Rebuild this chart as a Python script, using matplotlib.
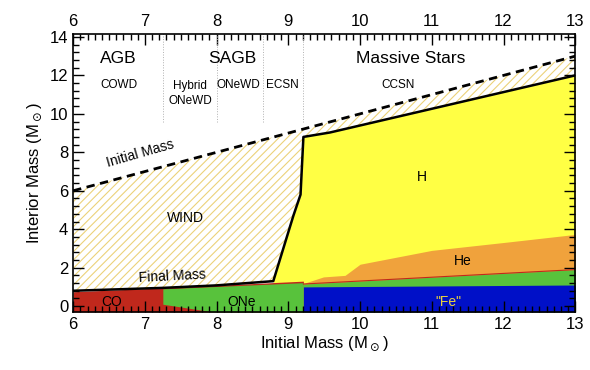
import numpy as np
import matplotlib.pyplot as plt
from matplotlib.ticker import MultipleLocator

plt.rcParams['font.family'] = ['Liberation Sans', 'DejaVu Sans']
plt.rcParams['hatch.linewidth'] = 0.8
plt.rcParams['mathtext.fontset'] = 'dejavusans'

# final mass of the star (top of remnant + envelope left)
fm_x = [6.0, 7.25, 8.0, 8.79, 9.07, 9.17, 9.21, 9.58, 13.0]
fm_y = [0.8, 0.95, 1.08, 1.3, 4.7, 5.8, 8.8, 9.03, 12.0]

# CO core (red)
co_x = [6.0, 7.25, 9.21]
co_y = [0.75, 0.95, 1.3]

# ONe core (green) for SAGB stars
one_x = [7.25, 9.21]
one_top = [0.9, 1.22]
one_bot_x = [7.25, 7.95, 9.21]
one_bot = [0.1, -0.3, -0.3]

# massive stars: Fe core, O/Si shell, He shell
fe_x = [9.21, 13.0]
fe_top = [1.0, 1.1]
si_x = [9.21, 13.0]
si_top = [1.15, 1.9]
he_x = [9.21, 9.49, 9.79, 10.0, 11.0, 12.05, 13.0]
he_top = [1.18, 1.52, 1.6, 2.18, 2.9, 3.33, 3.73]

fig = plt.figure(figsize=(5.9, 3.7), dpi=100)
ax = fig.add_axes([0.124, 0.157, 0.851, 0.751])
ymin = -0.3

# wind region (hatched)
ax.fill_between(fm_x, fm_y, fm_x, facecolor='white', edgecolor='#ecd27a',
                hatch='////', linewidth=0)

# hydrogen envelope
h_x = fm_x[3:]
ax.fill_between(h_x, ymin, fm_y[3:], color='#ffff44', linewidth=0)

# CO core
ax.fill_between(co_x, ymin, co_y, color='#c0281c', linewidth=0)

# ONe core
xx = np.linspace(7.25, 9.21, 50)
ax.fill_between(xx, np.interp(xx, one_bot_x, one_bot), np.interp(xx, one_x, one_top),
                color='#58c23c', linewidth=0)

# massive stars layers
ax.fill_between(he_x, ymin, he_top, color='#f0a23c', linewidth=0)
ax.fill_between(si_x, ymin, si_top, color='#58c23c', linewidth=0)
ax.plot(si_x, si_top, color='#c0281c', lw=0.8)
ax.fill_between(fe_x, ymin, fe_top, color='#0010c8', linewidth=0)

# lines
ax.plot([6, 13], [6, 13], color='black', lw=2, ls=(0, (3, 2)))
ax.plot(fm_x, fm_y, color='black', lw=1.8)

for xv in [7.25, 8.0, 8.65, 9.2]:
    ax.plot([xv, xv], [9.55, 14.2], color='#b0b0b0', lw=0.7, ls=':')

# labels
ax.text(6.63, 12.9, 'AGB', fontsize=12.5, ha='center', va='center')
ax.text(8.22, 12.9, 'SAGB', fontsize=12.5, ha='center', va='center')
ax.text(10.7, 12.9, 'Massive Stars', fontsize=12.5, ha='center', va='center')
ax.text(6.64, 11.5, 'COWD', fontsize=8.5, ha='center', va='center')
ax.text(7.63, 11.05, 'Hybrid\nONeWD', fontsize=8.5, ha='center', va='center',
        linespacing=1.3)
ax.text(8.31, 11.5, 'ONeWD', fontsize=8.5, ha='center', va='center')
ax.text(8.92, 11.5, 'ECSN', fontsize=8.5, ha='center', va='center')
ax.text(10.53, 11.5, 'CCSN', fontsize=8.5, ha='center', va='center')
ax.text(6.93, 7.95, 'Initial Mass', fontsize=10, ha='center', va='center',
        rotation=16)
ax.text(7.56, 4.6, 'WIND', fontsize=10, ha='center', va='center')
ax.text(7.38, 1.55, 'Final Mass', fontsize=10, ha='center', va='center',
        rotation=3)
ax.text(10.86, 6.7, 'H', fontsize=10, ha='center', va='center')
ax.text(11.43, 2.33, 'He', fontsize=10, ha='center', va='center')
ax.text(11.23, 0.22, '"Fe"', fontsize=10, ha='center', va='center', color='#e8d040')
ax.text(6.54, 0.22, 'CO', fontsize=10, ha='center', va='center')
ax.text(8.35, 0.22, 'ONe', fontsize=10, ha='center', va='center')

ax.set_xlim(6, 13)
ax.set_ylim(ymin, 14.15)
ax.xaxis.set_major_locator(MultipleLocator(1))
ax.xaxis.set_minor_locator(MultipleLocator(0.1))
ax.yaxis.set_major_locator(MultipleLocator(2))
ax.yaxis.set_minor_locator(MultipleLocator(0.4))
ax.tick_params(which='both', direction='in', top=True, right=True, labeltop=True,
               labelsize=12, width=1)
ax.tick_params(which='major', length=8)
ax.tick_params(which='minor', length=4)
for s in ax.spines.values():
    s.set_linewidth(1.2)
ax.set_xlabel(r'Initial Mass (M$_\odot$)', fontsize=12, labelpad=2)
ax.set_ylabel(r'Interior Mass (M$_\odot$)', fontsize=12, labelpad=4)

fig.savefig('out.png', dpi=100)
